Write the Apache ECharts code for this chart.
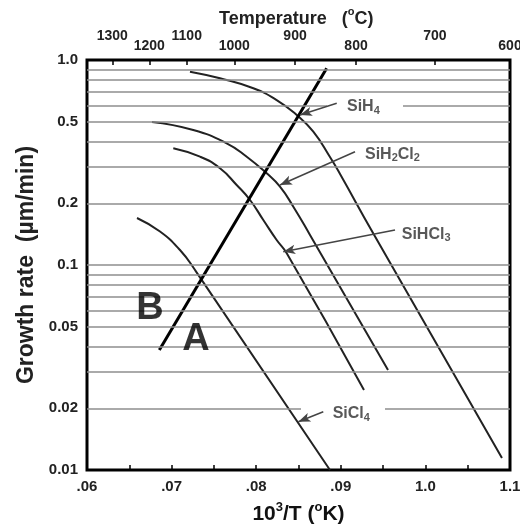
<!DOCTYPE html>
<html><head><meta charset="utf-8">
<script src="https://cdn.jsdelivr.net/npm/echarts@6/dist/echarts.min.js"></script>
<style>html,body{margin:0;padding:0;background:#fff}#c{width:520px;height:524px}</style>
</head><body><div id="c"></div>
<script>
// ---- data (x = 10^3/T axis units, y = growth rate µm/min) ----
const sih4    = [[0.07217,0.8768],[0.07572,0.8140],[0.07966,0.7277],[0.08242,0.6379],[0.08479,0.5391],[0.08675,0.4468],[0.08872,0.3364],[0.08991,0.2779],[0.09381,0.1432],[0.10905,0.01144]];
const sih2cl2 = [[0.06768,0.4983],[0.07256,0.4555],[0.07651,0.3924],[0.07888,0.3375],[0.08124,0.2800],[0.08281,0.2410],[0.08439,0.1925],[0.08636,0.1401],[0.09558,0.03075]];
const sihcl3  = [[0.07020,0.3709],[0.07336,0.3375],[0.07572,0.2963],[0.07769,0.2456],[0.07927,0.2075],[0.08084,0.1658],[0.08242,0.1324],[0.08361,0.1140],[0.09274,0.02456]];
const sicl4   = [[0.06591,0.1696],[0.06863,0.1456],[0.07099,0.1183],[0.07277,0.0945],[0.08872,0.0100]];
const lineAB  = [[0.06855,0.03849],[0.08833,0.9110]];

const xTickValues = [0.06,0.07,0.08,0.09,0.10,0.11];
const xTickLabels = ['.06','.07','.08','.09','1.0','1.1'];
const yTickValues = [1,0.5,0.2,0.1,0.05,0.02,0.01];
const yTickLabels = ['1.0','0.5','0.2','0.1','0.05','0.02','0.01'];
const tempTicks  = [0.06299,0.06736,0.07179,0.07741,0.08459,0.09180,0.10113,0.11];
const tempLabels = ['1300','1200','1100','1000','900','800','700','600'];
const gridValues = [0.02,0.03,0.04,0.05,0.06,0.07,0.08,0.09,0.1,0.2,0.3,0.4,0.5,0.6,0.7,0.8,0.9];
// gaps in grid lines behind labels: [y, xFrom, xTo]
const gridGaps = [[0.6,0.08837,0.09735],[0.02,0.08530,0.09522]];

// annotations: name, label anchor [x,y], arrow from [x,y], arrow to [x,y]
const annoNames = ['SiH4','SiH2Cl2','SiHCl3','SiCl4'];
const annoLabelPos = [[0.09073,0.6032],[0.09286,0.3538],[0.09720,0.1440],[0.08904,0.01918]];
const annoArrowFrom = [[0.08952,0.6149],[0.09168,0.3570],[0.09641,0.1482],[0.08793,0.01925]];
const annoArrowTo = [[0.08518,0.5391],[0.08281,0.2456],[0.08320,0.1161],[0.08498,0.01720]];
const letterLabels = ['B','A'];
const letterPos = [[0.06745,0.06379],[0.07288,0.04455]];

const FONT = '"Liberation Sans", Arial, sans-serif';
const XMIN = 0.06, XMAX = 0.11;

function nearestLabel(v, vals, labels){
  let bi=0, bd=Infinity;
  vals.forEach((t,i)=>{const d=Math.abs(t-v); if(d<bd){bd=d;bi=i;}});
  return bd < 1e-6 ? labels[bi] : '';
}

// grid line segments
const gridSegs = [];
gridValues.forEach(g=>{
  const gap = gridGaps.find(q=>Math.abs(q[0]-g)<1e-9);
  if(gap){
    gridSegs.push([{coord:[XMIN,g]},{coord:[gap[1],g]}]);
    gridSegs.push([{coord:[gap[2],g]},{coord:[XMAX,g]}]);
  } else {
    gridSegs.push([{coord:[XMIN,g]},{coord:[XMAX,g]}]);
  }
});

const chemRich = {
  a:{fontSize:16,fontWeight:'bold',color:'#2e2e2e',fontFamily:FONT,lineHeight:18,verticalAlign:'middle'},
  s:{fontSize:11,fontWeight:'bold',color:'#2e2e2e',fontFamily:FONT,lineHeight:18,verticalAlign:'bottom'}
};
function chemText(n){
  return n.replace(/([A-Za-z]+)(\d)?/g,(m,a,d)=>'{a|'+a+'}'+(d?'{s|'+d+'}':''));
}

const curveStyle = {color:'#222',width:2};
function curve(data){
  return {type:'line',data:data,showSymbol:false,symbol:'none',smooth:0.5,
    lineStyle:curveStyle,z:3,silent:true,animation:false};
}

const series = [
  {type:'line',data:[],silent:true,z:1,animation:false,
    markLine:{silent:true,symbol:['none','none'],animation:false,
      lineStyle:{color:'#8e8e8e',width:1.5,type:'solid'},label:{show:false},data:gridSegs}},
  curve(sih4), curve(sih2cl2), curve(sihcl3), curve(sicl4),
  {type:'line',data:lineAB,showSymbol:false,symbol:'none',lineStyle:{color:'#000',width:3},z:4,silent:true,animation:false},
  {type:'line',data:[],silent:true,z:5,animation:false,
    markLine:{silent:true,symbol:['none','arrow'],symbolSize:[7,12],animation:false,
      lineStyle:{color:'#444',width:1.5,type:'solid'},label:{show:false},
      data:annoArrowFrom.map((f,i)=>[{coord:f},{coord:annoArrowTo[i]}])}},
  {type:'scatter',symbolSize:0,z:6,silent:true,animation:false,
    data:annoLabelPos.map((p,i)=>({value:p,name:annoNames[i]})),
    label:{show:true,position:'right',distance:0,offset:[0,2],
      formatter:p=>chemText(p.name),rich:chemRich}},
  {type:'scatter',symbolSize:0,z:6,silent:true,animation:false,
    data:letterPos.map((p,i)=>({value:p,name:letterLabels[i]})),
    label:{show:true,position:'inside',offset:[0,3],formatter:p=>p.name,
      fontSize:38,fontWeight:'bold',color:'#000',fontFamily:FONT}}
];

const option = {
  backgroundColor:'#fff',
  animation:false,
  title:{text:'{a|Temperature   (}{b|o}{a|C)}',left:214,top:1,
    textStyle:{rich:{
      a:{fontSize:18,fontWeight:'bold',color:'#222',fontFamily:FONT,lineHeight:22,verticalAlign:'bottom'},
      b:{fontSize:11,fontWeight:'bold',color:'#222',fontFamily:FONT,lineHeight:22,verticalAlign:'top'}}}},
  grid:{left:87,right:10,top:60,bottom:54,show:true,borderColor:'#000',borderWidth:3,backgroundColor:'transparent',
    outerBoundsMode:'none',containLabel:false},
  xAxis:[
    {type:'value',position:'bottom',min:XMIN,max:XMAX,interval:0.005,
      axisLine:{show:false},splitLine:{show:false},
      axisTick:{show:true,inside:true,length:5,lineStyle:{color:'#000',width:1.5}},
      axisLabel:{customValues:xTickValues,showMinLabel:true,showMaxLabel:true,hideOverlap:false,
        formatter:v=>nearestLabel(v,xTickValues,xTickLabels),
        fontSize:15,fontWeight:'bold',color:'#222',fontFamily:FONT,margin:9},
      name:'{a|10}{b|3}{a|/T (}{b|o}{a|K)}',nameLocation:'middle',nameGap:31,
      nameTextStyle:{rich:{
        a:{fontSize:21,color:'#111',fontFamily:FONT,fontWeight:'bold',lineHeight:24,verticalAlign:'bottom'},
        b:{fontSize:13,color:'#111',fontFamily:FONT,fontWeight:'bold',lineHeight:24,verticalAlign:'top'}}}},
    {type:'value',position:'top',min:XMIN,max:XMAX,
      axisLine:{show:false},splitLine:{show:false},
      axisTick:{show:true,inside:true,length:5,customValues:tempTicks,lineStyle:{color:'#000',width:1.5}},
      axisLabel:{customValues:tempTicks.filter((t,i)=>i%2===1),showMinLabel:true,showMaxLabel:true,hideOverlap:false,
        formatter:v=>nearestLabel(v,tempTicks,tempLabels),
        fontSize:14,fontWeight:'bold',color:'#222',fontFamily:FONT,margin:7}},
    {type:'value',position:'top',min:XMIN,max:XMAX,
      axisLine:{show:false},splitLine:{show:false},axisTick:{show:false},
      axisLabel:{customValues:tempTicks.filter((t,i)=>i%2===0),showMinLabel:true,showMaxLabel:true,hideOverlap:false,
        formatter:v=>nearestLabel(v,tempTicks,tempLabels),
        fontSize:14,fontWeight:'bold',color:'#222',fontFamily:FONT,margin:17}}
  ],
  yAxis:{type:'log',logBase:10,min:0.01,max:1,
    axisLine:{show:false},axisTick:{show:false},splitLine:{show:false},minorSplitLine:{show:false},
    axisLabel:{customValues:yTickValues,showMinLabel:true,showMaxLabel:true,hideOverlap:false,
      formatter:v=>nearestLabel(v,yTickValues,yTickLabels),
      fontSize:15,fontWeight:'bold',color:'#222',fontFamily:FONT,margin:9},
    name:'Growth rate  (\u00b5m/min)',nameLocation:'middle',nameGap:48,nameRotate:90,
    nameTextStyle:{fontSize:23,fontWeight:'bold',color:'#222',fontFamily:FONT}},
  series:series
};
const chart = echarts.init(document.getElementById('c'),null,{renderer:'canvas'});
chart.setOption(option);
</script>
</body></html>
